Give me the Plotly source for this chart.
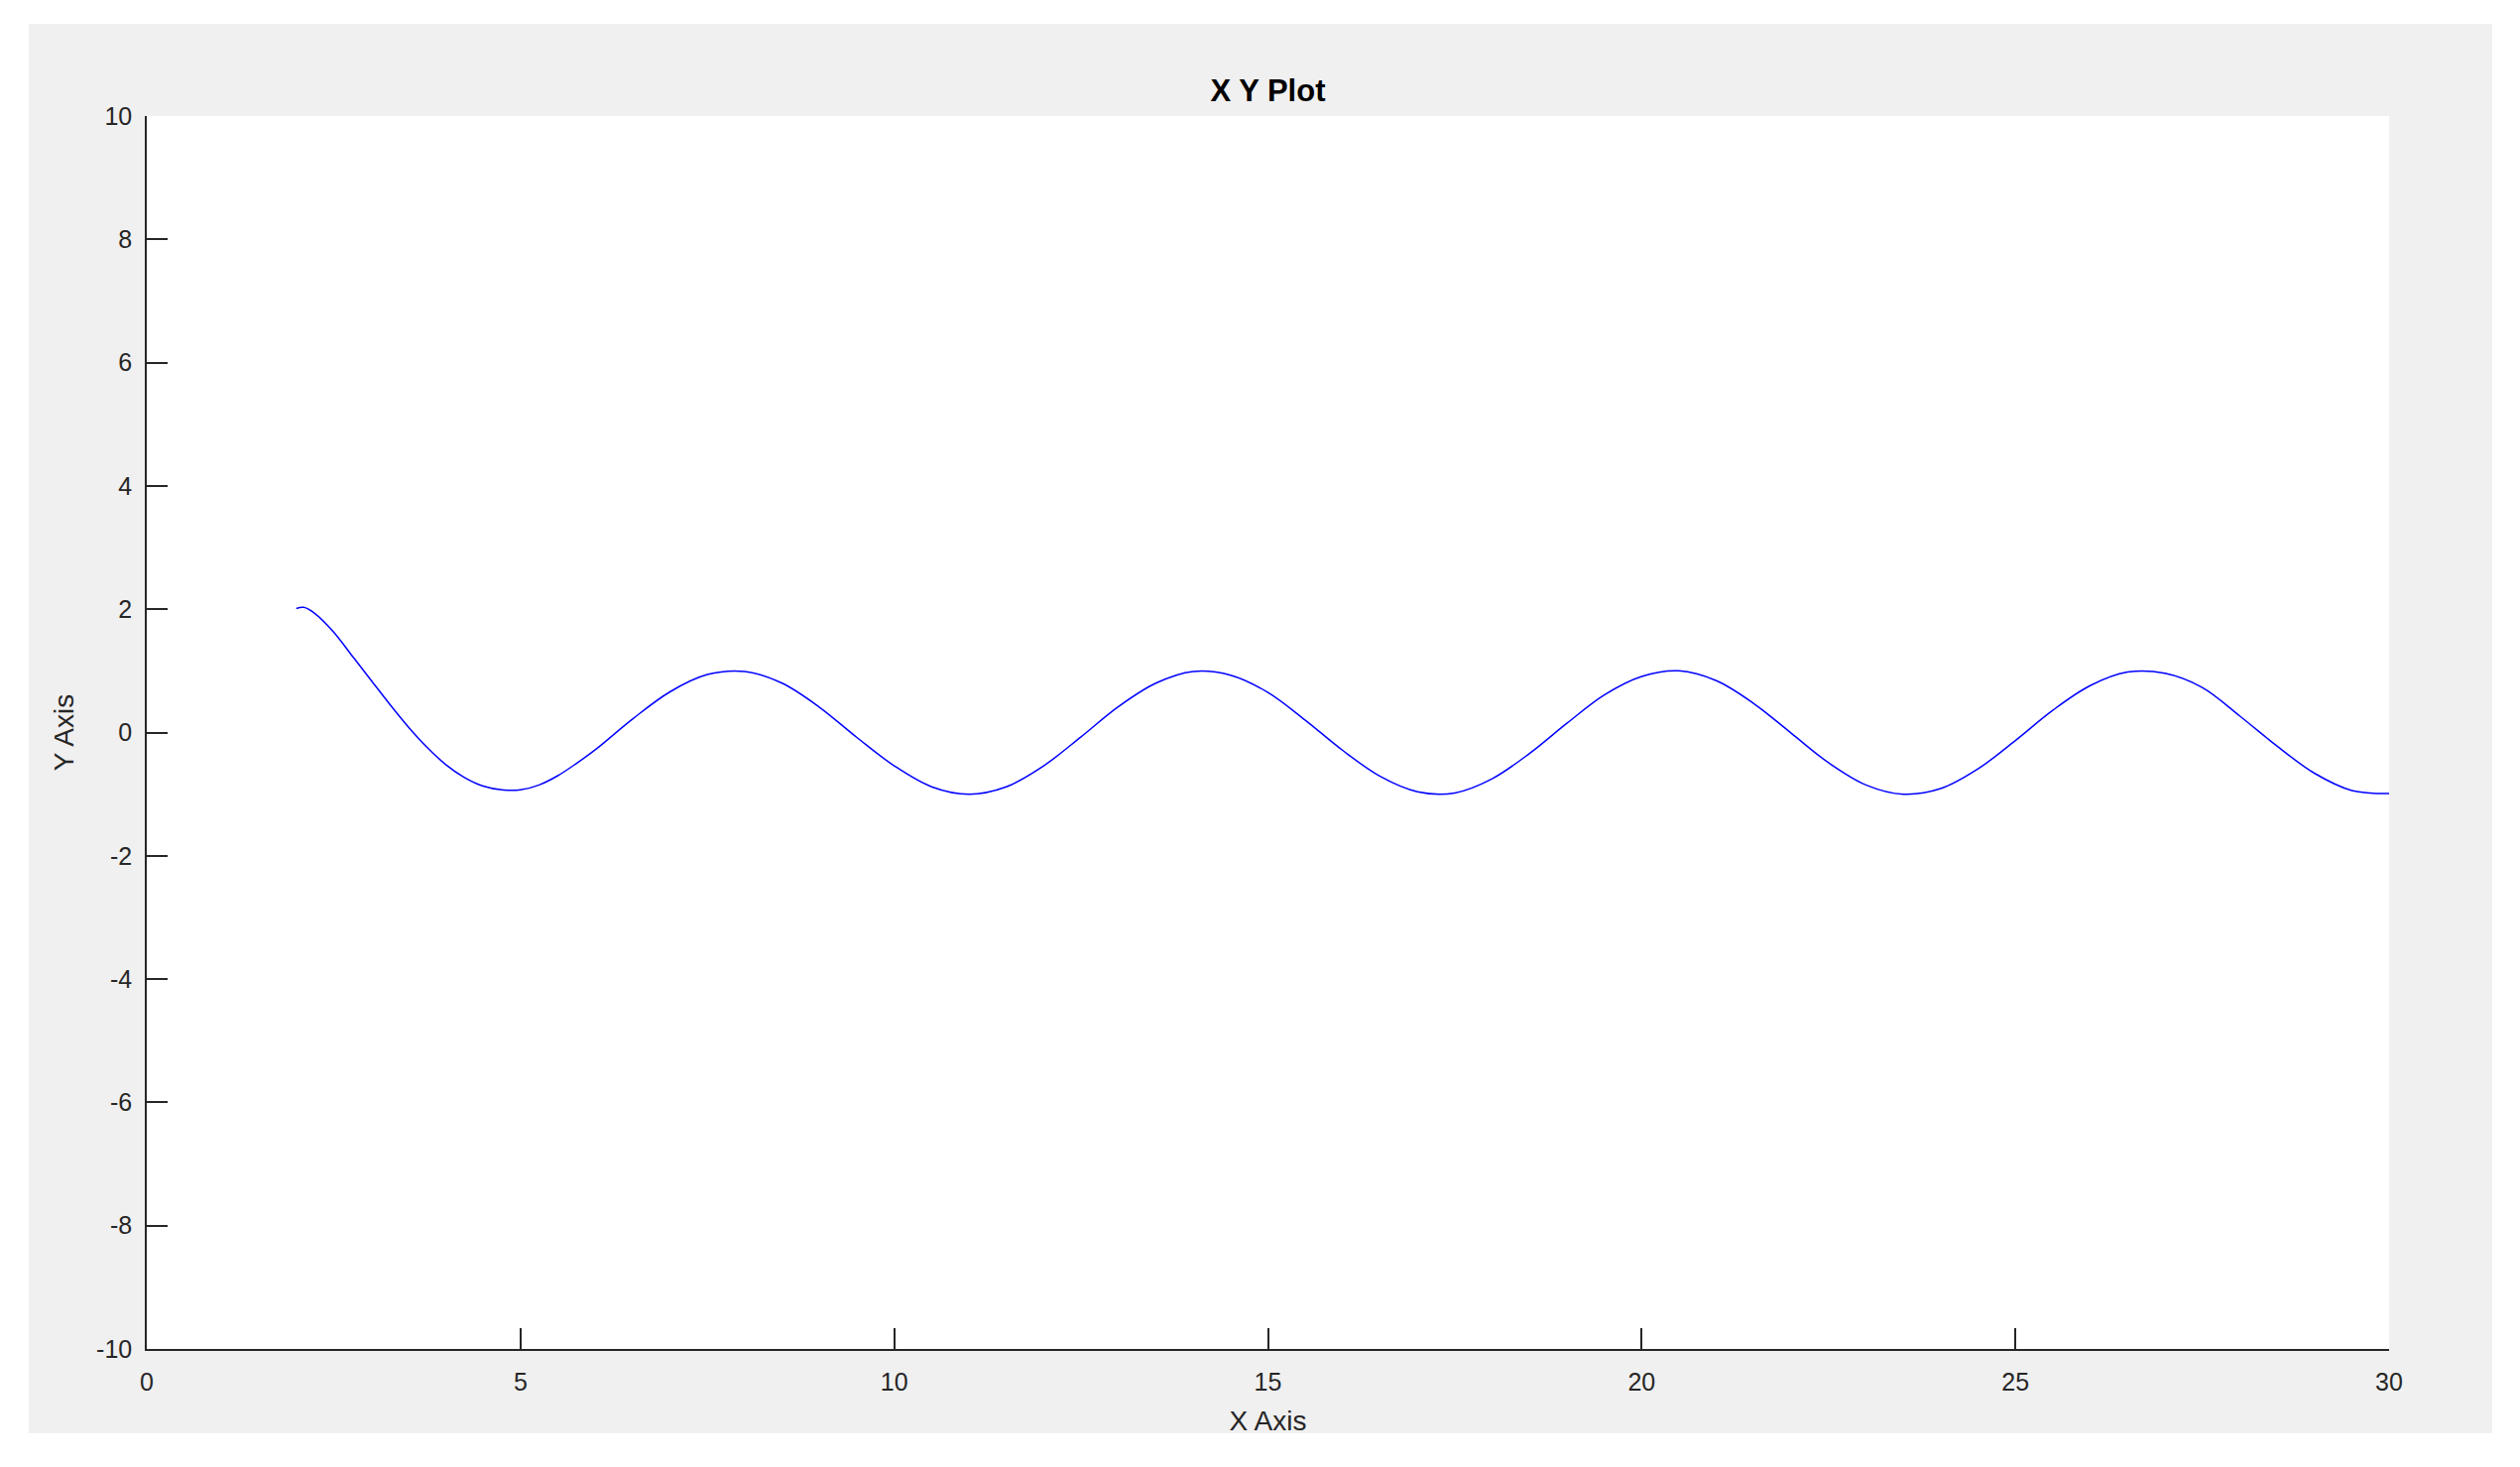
import plotly.graph_objects as go

# ---- data ----
x_values = [2.0, 2.1, 2.25, 2.5, 2.75, 3.0, 3.25, 3.5, 3.75, 4.0, 4.25, 4.5, 4.75,
            5.0, 5.25, 5.5, 5.75, 6.0, 6.5, 7.0, 7.5, 8.0, 8.5, 9.0, 9.5, 10.0,
            10.5, 11.0, 11.5, 12.0, 12.5, 13.0, 13.5, 14.0, 14.5, 15.0, 15.5, 16.0,
            16.5, 17.0, 17.5, 18.0, 18.5, 19.0, 19.5, 20.0, 20.5, 21.0, 21.5, 22.0,
            22.5, 23.0, 23.5, 24.0, 24.5, 25.0, 25.5, 26.0, 26.5, 27.0, 27.5, 28.0,
            28.5, 29.0, 29.5, 30.0]
y_values = [2.01, 2.03, 1.93, 1.63, 1.24, 0.85, 0.46, 0.09, -0.24, -0.52, -0.73, -0.87, -0.93,
            -0.93, -0.85, -0.70, -0.50, -0.28, 0.22, 0.66, 0.94, 0.99, 0.80, 0.41, -0.08, -0.54,
            -0.88, -1.00, -0.88, -0.54, -0.07, 0.42, 0.80, 0.99, 0.93, 0.65, 0.20, -0.29,
            -0.71, -0.96, -0.98, -0.75, -0.34, 0.15, 0.61, 0.91, 1.00, 0.84, 0.47, -0.01,
            -0.49, -0.85, -1.00, -0.91, -0.59, -0.13, 0.36, 0.76, 0.98, 0.96, 0.73, 0.27,
            -0.22, -0.66, -0.94, -0.99]
x_ticks = [0, 5, 10, 15, 20, 25, 30]
y_ticks = [-10, -8, -6, -4, -2, 0, 2, 4, 6, 8, 10]

# ---- layout geometry (page pixels; the page body adds an 8px offset) ----
OFF = 8
W, H = 2541 - 2 * OFF, 1479 - 2 * OFF
PL, PR, PT, PB = 148 - OFF, 2409 - OFF, 117 - OFF, 1360 - OFF   # plot area
GL, GR, GT, GB = 29 - OFF, 2513 - OFF, 24 - OFF, 1445 - OFF     # grey figure panel
TITLE_Y = 91 - OFF
pw, ph = PR - PL, PB - PT


def px_to_paper_x(px):
    return (px - PL) / pw


def px_to_paper_y(py):
    return (PB - py) / ph


FONT = "Liberation Sans, Arial, Helvetica, sans-serif"
AX = "#262626"

fig = go.Figure()
fig.add_trace(go.Scatter(
    x=x_values, y=y_values, mode="lines",
    line=dict(color="#0000FF", width=1.5, shape="spline", smoothing=1.0),
    showlegend=False, hoverinfo="x+y",
))

fig.add_shape(type="rect", xref="paper", yref="paper", layer="below",
              x0=px_to_paper_x(GL), x1=px_to_paper_x(GR),
              y0=px_to_paper_y(GB), y1=px_to_paper_y(GT),
              fillcolor="#F0F0F0", line=dict(width=0))
fig.add_shape(type="rect", xref="paper", yref="paper", layer="below",
              x0=0, x1=1, y0=0, y1=1,
              fillcolor="#FFFFFF", line=dict(width=0))

axis_common = dict(
    showgrid=False, zeroline=False, showline=True, linecolor=AX, linewidth=1.5,
    mirror=False, ticks="inside", ticklen=21, tickwidth=1.5, tickcolor=AX,
    tickfont=dict(family=FONT, size=25, color=AX),
    fixedrange=True,
)

fig.update_xaxes(range=[0, 30], tickvals=x_ticks, ticktext=[str(v) for v in x_ticks],
                 title=dict(text="X Axis", font=dict(family=FONT, size=28, color=AX), standoff=17),
                 ticklabelstandoff=10,
                 **axis_common)
fig.update_yaxes(range=[-10, 10], tickvals=y_ticks, ticktext=[str(v) for v in y_ticks],
                 title=dict(text="Y Axis", font=dict(family=FONT, size=28, color=AX), standoff=14),
                 ticklabelstandoff=8,
                 **axis_common)

fig.update_layout(
    width=W, height=H, autosize=False,
    margin=dict(l=PL, r=W - PR, t=PT, b=H - PB, pad=0),
    paper_bgcolor="#FFFFFF", plot_bgcolor="#FFFFFF",
    font=dict(family=FONT, color=AX),
    title=dict(text="<b>X Y Plot</b>", x=0.5, xref="paper", xanchor="center",
               y=1 - TITLE_Y / H, yref="container", yanchor="middle",
               font=dict(family=FONT, size=31, color="#000000")),
)

fig.write_html("out.html")
